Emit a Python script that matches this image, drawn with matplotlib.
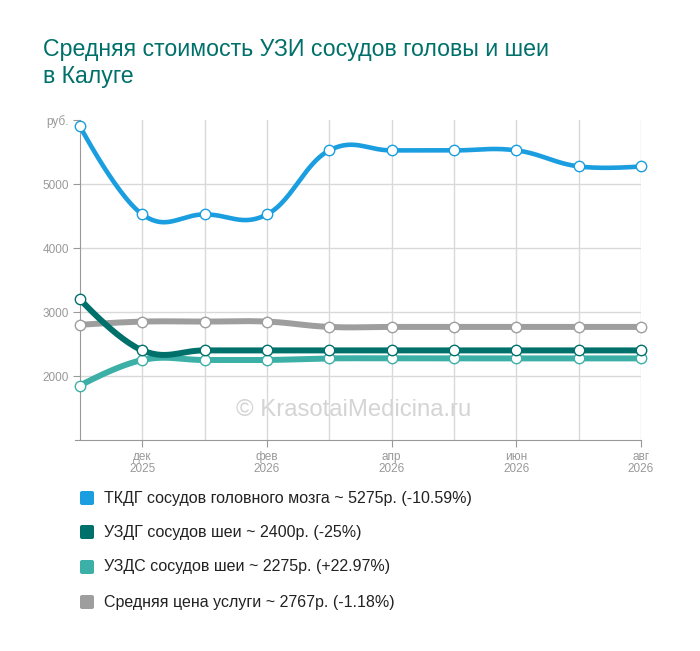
import numpy as np
import matplotlib.pyplot as plt
from matplotlib.patches import FancyBboxPatch

plt.rcParams['font.family'] = ['Liberation Sans', 'DejaVu Sans']

months = ['ноя', 'дек', 'янв', 'фев', 'мар', 'апр', 'май', 'июн', 'июл', 'авг']
years = ['2025', '2025', '2026', '2026', '2026', '2026', '2026', '2026', '2026', '2026']

tkdg = [5900, 4525, 4525, 4525, 5525, 5525, 5525, 5525, 5275, 5275]
uzdg = [3200, 2400, 2400, 2400, 2400, 2400, 2400, 2400, 2400, 2400]
uzds = [1850, 2250, 2250, 2250, 2275, 2275, 2275, 2275, 2275, 2275]
avg_price = [2800, 2850, 2850, 2850, 2767, 2767, 2767, 2767, 2767, 2767]

labels = ['ТКДГ сосудов головного мозга ~ 5275р. (-10.59%)',
          'УЗДГ сосудов шеи ~ 2400р. (-25%)',
          'УЗДС сосудов шеи ~ 2275р. (+22.97%)',
          'Средняя цена услуги ~ 2767р. (-1.18%)']
colors = ['#1a9ee0', '#00706a', '#3cb0a6', '#9e9e9e']


def spline(x, y, smoothing=1.5, n=30):
    # bezier spline through the points, like a charting lib's "spline" type
    x = np.asarray(x, float)
    y = np.asarray(y, float)
    m = len(x)
    lc = np.zeros((m, 2))
    rc = np.zeros((m, 2))
    for i in range(m):
        if i == 0 or i == m - 1:
            lc[i] = rc[i] = (x[i], y[i])
            continue
        d = smoothing + 1
        lx = (smoothing * x[i] + x[i - 1]) / d
        ly = (smoothing * y[i] + y[i - 1]) / d
        rx = (smoothing * x[i] + x[i + 1]) / d
        ry = (smoothing * y[i] + y[i + 1]) / d
        corr = (ry - ly) * (rx - x[i]) / (rx - lx) + y[i] - ry
        lc[i] = (lx, ly + corr)
        rc[i] = (rx, ry + corr)
    xs, ys = [], []
    t = np.linspace(0, 1, n)
    for i in range(m - 1):
        p0 = np.array([x[i], y[i]])
        p3 = np.array([x[i + 1], y[i + 1]])
        p1 = rc[i]
        p2 = lc[i + 1]
        pts = ((1 - t) ** 3)[:, None] * p0 + (3 * (1 - t) ** 2 * t)[:, None] * p1 \
            + (3 * (1 - t) * t ** 2)[:, None] * p2 + (t ** 3)[:, None] * p3
        xs.extend(pts[:, 0])
        ys.extend(pts[:, 1])
    return xs, ys


fig = plt.figure(figsize=(7, 6.51), dpi=100)
ax = fig.add_axes([80 / 700, 1 - 440 / 651, 561 / 700, 320 / 651])

x = np.arange(len(months))
series = [tkdg, uzdg, uzds, avg_price]
widths = [3.3, 4.3, 4.3, 4.3]
order = [3, 2, 1, 0]
for k in order:
    sx, sy = spline(x, series[k])
    ax.plot(sx, sy, color=colors[k], lw=widths[k], solid_capstyle='round', zorder=3 + (3 - k))
    ax.plot(x, series[k], 'o', ms=7.5, mfc='white', mec=colors[k], mew=1.0,
            zorder=10 + (3 - k), clip_on=False)

ax.set_xlim(0, len(months) - 1)
ax.set_ylim(1000, 6000)

ax.set_yticks([2000, 3000, 4000, 5000, 6000])
ax.set_yticklabels(['2000', '3000', '4000', '5000', 'руб.'])
ax.tick_params(axis='y', length=5, color='#999999', labelcolor='#999999', labelsize=8.5, pad=3)
for v in [2000, 3000, 4000, 5000]:
    ax.axhline(v, color='#d9d9d9', lw=1, zorder=1)
for xi in x[1:]:
    ax.axvline(xi, color='#d9d9d9', lw=1, zorder=1)

tick_idx = [1, 3, 5, 7, 9]
ax.set_xticks(tick_idx)
ax.set_xticklabels([months[i] + '\n' + years[i] for i in tick_idx], linespacing=1.0)
ax.tick_params(axis='x', length=5, color='#999999', labelcolor='#999999', labelsize=8.5, pad=3)

for s in ['top', 'right']:
    ax.spines[s].set_visible(False)
ax.spines['left'].set_color('#999999')
ax.spines['bottom'].set_color('#999999')
ax.spines['bottom'].set_bounds(-0.08, len(months) - 1)
ax.spines['bottom'].set_zorder(2)

ax.text(0.487, 0.094, '© KrasotaiMedicina.ru', transform=ax.transAxes, ha='center', va='center',
        fontsize=17.2, color='#d4d4d4', zorder=0)

fig.text(43 / 700, 1 - 38 / 651, 'Средняя стоимость УЗИ сосудов головы и шеи\nв Калуге',
         ha='left', va='top', fontsize=16.7, color='#00706a', linespacing=1.2)

rows = [498, 532, 567, 602]
for k, yy in enumerate(rows):
    fig.patches.append(FancyBboxPatch((80 / 700, 1 - (yy + 7) / 651), 14 / 700, 14 / 651,
                                      boxstyle='round,pad=0.0,rounding_size=0.003',
                                      transform=fig.transFigure, facecolor=colors[k],
                                      edgecolor='none'))
    fig.text(104 / 700, 1 - yy / 651, labels[k], ha='left', va='center', fontsize=11.5, color='#222222')

fig.savefig('out.png', dpi=100)
